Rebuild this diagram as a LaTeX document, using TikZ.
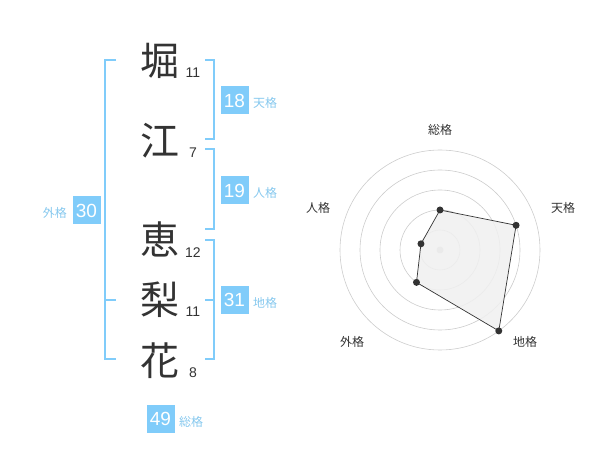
\documentclass[tikz,border=0pt]{standalone}
\usepackage{fontspec}
\setmainfont{Liberation Sans}
\newfontfamily\jp{Noto Sans CJK JP}
\definecolor{boxblue}{HTML}{80CCFA}
\definecolor{lblblue}{HTML}{86C8EE}
\definecolor{ink}{HTML}{333333}
\definecolor{ringgray}{HTML}{CCCCCC}
\definecolor{polyfill}{HTML}{F0F0F0}
\begin{document}
\begin{tikzpicture}[x=1pt,y=-1pt,
  kanji/.style={font=\jp\fontsize{39}{39}\selectfont, text=ink, inner sep=0},
  strokes/.style={font=\fontsize{14}{14}\selectfont, text=ink, inner sep=0},
  numbox/.style={fill=boxblue, text=white, font=\fontsize{19}{19}\selectfont, minimum width=28, minimum height=28, inner sep=0},
  kaku/.style={font=\jp\fontsize{12}{12}\selectfont, text=lblblue, inner sep=0},
  bracket/.style={draw=boxblue, line width=1.6pt},
  ring/.style={draw=ringgray, line width=0.6pt},
  radarlbl/.style={font=\jp\fontsize{12}{12}\selectfont, text=ink, inner sep=0},
  vdot/.style={circle, fill=ink, inner sep=0, minimum size=7}]
\useasboundingbox (0,0) rectangle (600,470);
% kanji
\node[kanji] (k1) at (160,61) {堀};
\node[kanji] (k2) at (160,141) {江};
\node[kanji] (k3) at (160,239) {恵};
\node[kanji] (k4) at (160,300) {梨};
\node[kanji] (k5) at (160,361) {花};
\node[strokes] (s1) at (193,73) {11};
\node[strokes] (s2) at (193,153) {7};
\node[strokes] (s3) at (193,253) {12};
\node[strokes] (s4) at (193,312) {11};
\node[strokes] (s5) at (193,373) {8};
% brackets
\draw[bracket] (116,60) -- (105,60) -- (105,359) -- (116,359);
\draw[bracket] (105,300) -- (116,300);
\draw[bracket] (205,60) -- (214,60) -- (214,139) -- (205,139);
\draw[bracket] (205,149) -- (214,149) -- (214,229) -- (205,229);
\draw[bracket] (205,240) -- (214,240) -- (214,359) -- (205,359);
\draw[bracket] (205,300) -- (214,300);
% boxes
\node[numbox] (b18) at (234.5,100.5) {18};
\node[kaku, anchor=west] (l18) at (253,103) {天格};
\node[numbox] (b19) at (234.5,190.5) {19};
\node[kaku, anchor=west] (l19) at (253,193) {人格};
\node[numbox] (b31) at (234.5,300) {31};
\node[kaku, anchor=west] (l31) at (253,303) {地格};
\node[numbox] (b30) at (86.5,210.5) {30};
\node[kaku, anchor=east] (l30) at (67,213) {外格};
\node[numbox] (b49) at (160.5,419) {49};
\node[kaku, anchor=west] (l49) at (179,422) {総格};
% radar
\begin{scope}[shift={(440,250)}]
  \foreach \r in {20,40,60,80,100} \draw[ring] (0,0) circle[radius=\r];
  \fill[ringgray] (0,0) circle[radius=3.5];
  \coordinate (p1) at (-90:40);
  \coordinate (p2) at (-18:80);
  \coordinate (p3) at (54:100);
  \coordinate (p4) at (126:40);
  \coordinate (p5) at (198:20);
  \draw[ink, fill=polyfill, fill opacity=0.85, line width=0.7pt] (p1) -- (p2) -- (p3) -- (p4) -- (p5) -- cycle;
  \foreach \p in {p1,p2,p3,p4,p5} \node[vdot] at (\p) {};
\end{scope}
\node[radarlbl] (r1) at (440,130) {総格};
\node[radarlbl] (r2) at (563,208) {天格};
\node[radarlbl] (r3) at (525,342) {地格};
\node[radarlbl] (r4) at (352,342) {外格};
\node[radarlbl] (r5) at (318,208) {人格};
\end{tikzpicture}
\end{document}
